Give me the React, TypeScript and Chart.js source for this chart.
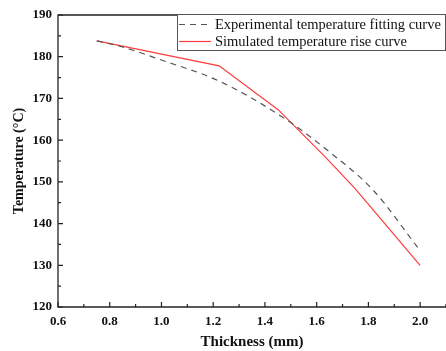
import React, { useEffect, useRef } from "react";
import { Chart, registerables } from "chart.js";

Chart.register(...registerables);

// Experimental temperature fitting curve (dashed)
const fitThickness = [0.75, 0.84, 1.0, 1.225, 1.483, 1.663, 1.817, 2.0];
const fitTemperature = [183.8, 182.5, 179.2, 174.1, 164.9, 156.5, 148.1, 133.5];

// Simulated temperature rise curve (red)
const simThickness = [0.75, 1.0, 1.223, 1.451, 1.631, 1.747, 2.0];
const simTemperature = [183.8, 180.6, 177.8, 167.3, 156.1, 148.5, 130.0];

const legendLabels = ["Experimental temperature fitting curve", "Simulated temperature rise curve"];
const xTitle = "Thickness (mm)";
const yTitle = "Temperature (\u00B0C)";

const SERIF = "'Liberation Serif', 'Times New Roman', serif";

const framePlugin = {
  id: "frameTicksLegend",
  afterDraw(chart: any) {
    const { ctx, chartArea } = chart;
    const xs = chart.scales.x;
    const ys = chart.scales.y;
    ctx.save();
    ctx.strokeStyle = "#222";
    ctx.lineWidth = 1.3;
    ctx.setLineDash([]);
    // frame
    ctx.beginPath();
    ctx.moveTo(chartArea.right + 2, chartArea.top);
    ctx.lineTo(chartArea.left, chartArea.top);
    ctx.lineTo(chartArea.left, chartArea.bottom);
    ctx.lineTo(chartArea.right + 2, chartArea.bottom);
    ctx.stroke();
    // x ticks (inward)
    const xt = xs.ticks.map((t: any) => t.value);
    const xStep = xt.length > 1 ? xt[1] - xt[0] : 0.2;
    ctx.lineWidth = 1.2;
    ctx.beginPath();
    xt.forEach((v: number) => {
      const p = xs.getPixelForValue(v);
      ctx.moveTo(p, chartArea.bottom);
      ctx.lineTo(p, chartArea.bottom - 5);
      const pm = xs.getPixelForValue(v + xStep / 2);
      if (pm <= chartArea.right) {
        ctx.moveTo(pm, chartArea.bottom);
        ctx.lineTo(pm, chartArea.bottom - 3);
      }
    });
    // y ticks (inward)
    const yt = ys.ticks.map((t: any) => t.value);
    const yStep = yt.length > 1 ? yt[1] - yt[0] : 10;
    yt.forEach((v: number) => {
      const p = ys.getPixelForValue(v);
      ctx.moveTo(chartArea.left, p);
      ctx.lineTo(chartArea.left + 5, p);
      const pm = ys.getPixelForValue(v + yStep / 2);
      if (pm >= chartArea.top) {
        ctx.moveTo(chartArea.left, pm);
        ctx.lineTo(chartArea.left + 3, pm);
      }
    });
    ctx.stroke();

    // legend box
    const bx = 177.5, by = 14.5, bw = 268, bh = 36;
    ctx.fillStyle = "#fff";
    ctx.fillRect(bx, by, bw, bh);
    ctx.strokeStyle = "#555";
    ctx.lineWidth = 1;
    ctx.strokeRect(bx, by, bw, bh);
    const ds = chart.data.datasets;
    const rows = [24.5, 41.5];
    ctx.font = `14.5px ${SERIF}`;
    ctx.textBaseline = "middle";
    ctx.textAlign = "left";
    ds.forEach((d: any, i: number) => {
      ctx.strokeStyle = d.borderColor;
      ctx.lineWidth = d.borderWidth;
      ctx.setLineDash(d.borderDash || []);
      ctx.beginPath();
      ctx.moveTo(179, rows[i]);
      ctx.lineTo(211, rows[i]);
      ctx.stroke();
      ctx.setLineDash([]);
      ctx.fillStyle = "#111";
      ctx.fillText(legendLabels[i], 215, rows[i] + 0.5);
    });
    ctx.restore();
  },
};

export default function App() {
  const ref = useRef<HTMLCanvasElement | null>(null);
  useEffect(() => {
    if (!ref.current) return;
    const chart = new Chart(ref.current, {
      type: "line",
      data: {
        datasets: [
          {
            label: legendLabels[0],
            data: fitThickness.map((x, i) => ({ x, y: fitTemperature[i] })),
            borderColor: "#555",
            borderWidth: 1.2,
            borderDash: [6, 5],
            pointRadius: 0,
            cubicInterpolationMode: "monotone",
            fill: false,
          },
          {
            label: legendLabels[1],
            data: simThickness.map((x, i) => ({ x, y: simTemperature[i] })),
            borderColor: "#ff3b3b",
            borderWidth: 1.2,
            pointRadius: 0,
            tension: 0,
            fill: false,
          },
        ],
      },
      options: {
        responsive: false,
        animation: false,
        layout: { padding: { top: 15, right: 0, left: 0, bottom: 0 } },
        plugins: { legend: { display: false }, tooltip: { enabled: false } },
        scales: {
          x: {
            type: "linear",
            min: 0.6,
            max: 2.1,
            grid: { display: false, drawTicks: false },
            border: { display: false },
            ticks: {
              stepSize: 0.2,
              includeBounds: false,
              padding: 7,
              color: "#111",
              font: { family: SERIF, size: 13, weight: "bold" },
              callback: (v: any) => Number(v).toFixed(1),
              maxRotation: 0,
            },
            title: {
              display: true,
              text: xTitle,
              color: "#111",
              font: { family: SERIF, size: 15, weight: "bold" },
              padding: { top: 0, bottom: 0 },
            },
            afterFit: (s: any) => {
              s.height = 44;
            },
          },
          y: {
            type: "linear",
            min: 120,
            max: 190,
            grid: { display: false, drawTicks: false },
            border: { display: false },
            ticks: {
              stepSize: 10,
              padding: 6,
              color: "#111",
              font: { family: SERIF, size: 13, weight: "bold" },
            },
            title: {
              display: true,
              text: yTitle,
              color: "#111",
              font: { family: SERIF, size: 14, weight: "bold" },
              padding: { top: 11, bottom: 0 },
            },
            afterFit: (s: any) => {
              s.width = 58;
            },
          },
        },
      },
      plugins: [framePlugin],
    });
    return () => chart.destroy();
  }, []);
  return (
    <div style={{ position: "absolute", left: 0, top: 0, width: 446, height: 351, background: "#fff" }}>
      <canvas ref={ref} width={446} height={351} style={{ display: "block" }} />
    </div>
  );
}
